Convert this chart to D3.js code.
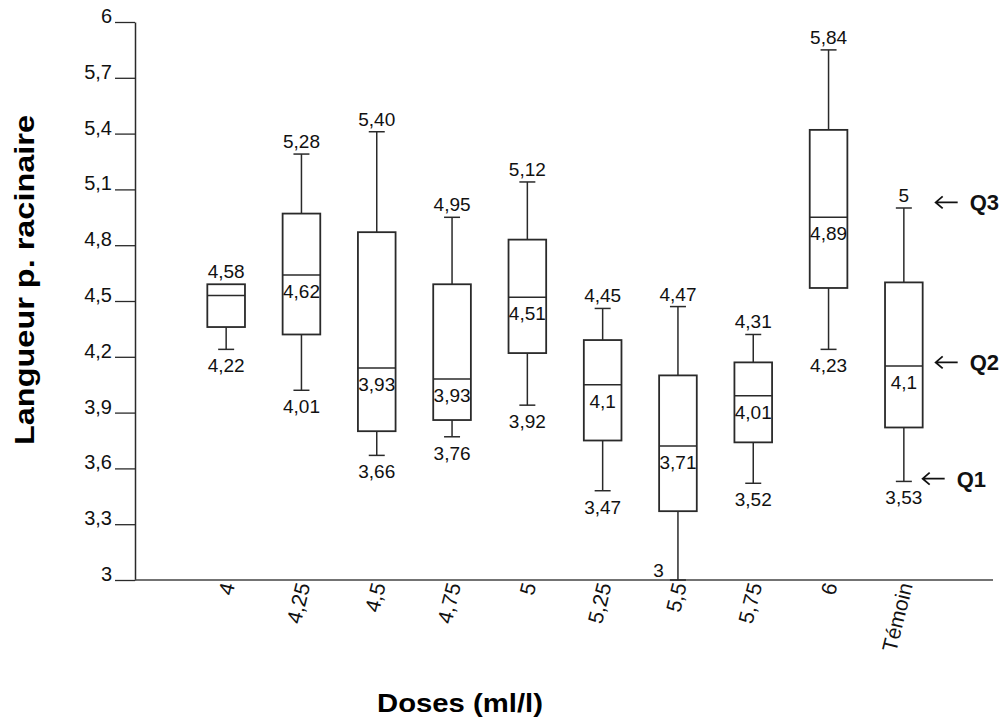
<!DOCTYPE html>
<html>
<head>
<meta charset="utf-8">
<script src="https://cdn.jsdelivr.net/npm/d3@7"></script>
<style>
  body { margin: 0; background: #fff; }
  svg { font-family: "Liberation Sans", Arial, sans-serif; }
</style>
</head>
<body>
<svg width="1002" height="720"></svg>
<script>
// doses and box values
var categories = ["4", "4,25", "4,5", "4,75", "5", "5,25", "5,5", "5,75", "6", "Témoin"]
var mins    = [4.24, 4.02, 3.67, 3.77, 3.94, 3.48, 3.00, 3.52, 4.24, 3.53]
var q1s     = [4.36, 4.32, 3.80, 3.86, 4.22, 3.75, 3.37, 3.74, 4.57, 3.82]
var medians = [4.53, 4.64, 4.14, 4.08, 4.52, 4.05, 3.72, 3.99, 4.95, 4.15]
var q3s     = [4.59, 4.97, 4.87, 4.59, 4.83, 4.29, 4.10, 4.17, 5.42, 4.60]
var maxs    = [4.59, 5.29, 5.41, 4.95, 5.14, 4.46, 4.47, 4.32, 5.85, 5.00]

var highLabels = ["4,58", "5,28", "5,40", "4,95", "5,12", "4,45", "4,47", "4,31", "5,84", "5"]
var midLabels  = ["", "4,62", "3,93", "3,93", "4,51", "4,1", "3,71", "4,01", "4,89", "4,1"]
var lowLabels  = ["4,22", "4,01", "3,66", "3,76", "3,92", "3,47", "3", "3,52", "4,23", "3,53"]

var yTicks = [3, 3.3, 3.6, 3.9, 4.2, 4.5, 4.8, 5.1, 5.4, 5.7, 6]
var yTickLabels = ["3", "3,3", "3,6", "3,9", "4,2", "4,5", "4,8", "5,1", "5,4", "5,7", "6"]

var quartileNames = ["Q3", "Q2", "Q1"]
var quartileLevels = [5.03, 4.17, 3.545]

var data = categories.map(function(c, i) {
  return { dose: c, min: mins[i], q1: q1s[i], med: medians[i], q3: q3s[i], max: maxs[i],
           hi: highLabels[i], mid: midLabels[i], lo: lowLabels[i] }
})

var svg = d3.select("svg"),
    margin = {top: 22, right: 9, bottom: 140, left: 135},
    width = +svg.attr("width") - margin.left - margin.right,
    height = +svg.attr("height") - margin.top - margin.bottom,
    g = svg.append("g").attr("transform", "translate(" + margin.left + "," + margin.top + ")");

var x = d3.scaleBand()
    .domain(categories)
    .range([53.5, 806.5])
    .paddingInner(0.5)
    .paddingOuter(0.25);

var y = d3.scaleLinear()
    .domain([3, 6])
    .range([height, 0]);

var ink = "#2a2a2a"

// y axis
var yAxis = g.append("g")
    .call(d3.axisLeft(y).tickValues(yTicks).tickSize(20).tickSizeOuter(0).tickPadding(3)
      .tickFormat(function(d, i) { return yTickLabels[i]; }));
yAxis.select(".domain").attr("stroke", ink).attr("stroke-width", 1.5);
yAxis.selectAll(".tick line").attr("stroke", ink).attr("stroke-width", 1.3);
yAxis.selectAll(".tick text")
    .attr("dy", "0.02em")
    .attr("fill", "#111")
    .attr("font-size", 20)
    .attr("font-family", "Liberation Sans, Arial, sans-serif");

// x axis: base line + rotated labels
g.append("line")
    .attr("x1", 0).attr("x2", width)
    .attr("y1", height).attr("y2", height)
    .attr("stroke", "#444").attr("stroke-width", 1.5);

var xAxis = g.append("g")
    .attr("transform", "translate(0," + height + ")")
    .call(d3.axisBottom(x).tickSize(0).tickPadding(0));
xAxis.select(".domain").remove();
xAxis.selectAll(".tick text")
    .attr("font-size", 21)
    .attr("font-family", "Liberation Sans, Arial, sans-serif")
    .attr("fill", "#111")
    .attr("text-anchor", "end")
    .attr("y", 0).attr("dy", 0)
    .attr("transform", "translate(9,5) rotate(-76)");

// boxes
var box = g.append("g")
  .selectAll("g")
  .data(data)
  .enter().append("g")
    .attr("transform", function(d) { return "translate(" + (x(d.dose) + x.bandwidth() / 2) + ",0)"; });

var bw = x.bandwidth(), cap = 8;

box.append("line")
    .attr("x1", 0).attr("x2", 0)
    .attr("y1", function(d) { return y(d.max); })
    .attr("y2", function(d) { return y(d.q3); })
    .attr("stroke", ink).attr("stroke-width", 1.5);
box.append("line")
    .attr("x1", 0).attr("x2", 0)
    .attr("y1", function(d) { return y(d.q1); })
    .attr("y2", function(d) { return y(d.min); })
    .attr("stroke", ink).attr("stroke-width", 1.5);
box.filter(function(d) { return d.max > d.q3; }).append("line")
    .attr("x1", -cap).attr("x2", cap)
    .attr("y1", function(d) { return y(d.max); })
    .attr("y2", function(d) { return y(d.max); })
    .attr("stroke", ink).attr("stroke-width", 1.5);
box.append("line")
    .attr("x1", -cap).attr("x2", cap)
    .attr("y1", function(d) { return y(d.min); })
    .attr("y2", function(d) { return y(d.min); })
    .attr("stroke", ink).attr("stroke-width", 1.5);

box.append("rect")
    .attr("x", -bw / 2)
    .attr("width", bw)
    .attr("y", function(d) { return y(d.q3); })
    .attr("height", function(d) { return y(d.q1) - y(d.q3); })
    .attr("fill", "#fff")
    .attr("stroke", ink).attr("stroke-width", 1.8);

box.append("line")
    .attr("x1", -bw / 2).attr("x2", bw / 2)
    .attr("y1", function(d) { return y(d.med); })
    .attr("y2", function(d) { return y(d.med); })
    .attr("stroke", ink).attr("stroke-width", 1.5);

// value labels
var labelFont = 19
box.append("text")
    .attr("text-anchor", "middle")
    .attr("font-size", labelFont)
    .attr("fill", "#111")
    .attr("y", function(d) { return y(d.max) - 6; })
    .text(function(d) { return d.hi; });
box.append("text")
    .attr("text-anchor", "middle")
    .attr("font-size", labelFont)
    .attr("fill", "#111")
    .attr("y", function(d) { return y(d.med) + 23; })
    .text(function(d) { return d.mid; });
box.append("text")
    .attr("text-anchor", function(d) { return d.min <= 3 ? "end" : "middle"; })
    .attr("x", function(d) { return d.min <= 3 ? -14 : 0; })
    .attr("font-size", labelFont)
    .attr("fill", "#111")
    .attr("y", function(d) { return d.min <= 3 ? y(d.min) - 3 : y(d.min) + 23; })
    .text(function(d) { return d.lo; });

// quartile pointers next to the last box
var lastRight = x(categories[categories.length - 1]) + bw
var quart = g.append("g")
  .selectAll("g")
  .data(quartileNames.map(function(n, i) { return { name: n, v: quartileLevels[i] }; }))
  .enter().append("g")
    .attr("transform", function(d) {
      var dx = d.name === "Q1" ? lastRight - 1 : lastRight + 12;
      return "translate(" + dx + "," + y(d.v) + ")";
    });
quart.append("path")
    .attr("d", "M1,0H23M8,-6L1,0L8,6")
    .attr("fill", "none")
    .attr("stroke", "#111")
    .attr("stroke-width", 1.8);
quart.append("text")
    .attr("x", 35)
    .attr("font-size", 22)
    .attr("font-weight", "bold")
    .attr("dy", "0.36em")
    .attr("fill", "#111")
    .text(function(d) { return d.name; });

// axis titles
svg.append("text")
    .attr("transform", "translate(34,280) rotate(-90)")
    .attr("text-anchor", "middle")
    .attr("font-size", 28)
    .attr("font-weight", "bold")
    .attr("textLength", 330)
    .attr("lengthAdjust", "spacingAndGlyphs")
    .attr("fill", "#000")
    .text("Langueur p. racinaire");

svg.append("text")
    .attr("x", 460)
    .attr("y", 712)
    .attr("text-anchor", "middle")
    .attr("font-size", 26)
    .attr("font-weight", "bold")
    .attr("textLength", 166)
    .attr("lengthAdjust", "spacingAndGlyphs")
    .attr("fill", "#000")
    .text("Doses (ml/l)");
</script>
</body>
</html>
